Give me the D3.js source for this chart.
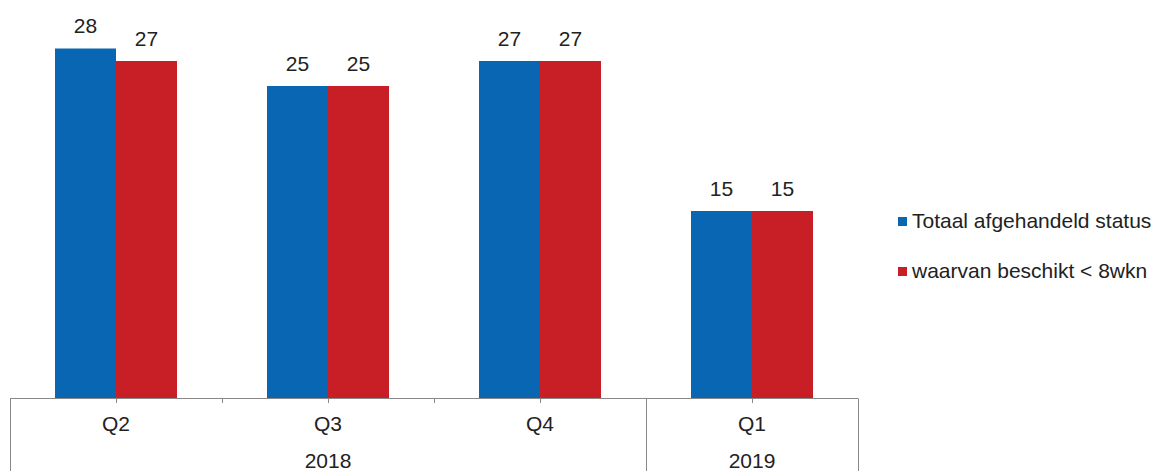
<!DOCTYPE html>
<html><head><meta charset="utf-8">
<script src="https://cdn.jsdelivr.net/npm/d3@7"></script>
<style>body{margin:0;background:#fff}svg{display:block}text{font-family:"Liberation Sans",Arial,sans-serif;fill:#222}</style>
</head><body>
<script>
const quarters = ["Q2","Q3","Q4","Q1"];
const years = [{label:"2018", from:0, to:3},{label:"2019", from:3, to:4}];
const seriesNames = ["Totaal afgehandeld status","waarvan beschikt < 8wkn"];
const totaal = [28,25,27,15];
const beschikt = [27,25,27,15];
const colors = ["#0866b2","#c71f25"];

const W=1162,H=471,FS=21;
const svg=d3.select("body").append("svg").attr("width",W).attr("height",H);
const x0=d3.scaleBand().domain(d3.range(quarters.length)).range([10,858]);
const x1=d3.scaleBand().domain([0,1]).range([0,122]);
const y=d3.scaleLinear().domain([0,32]).range([398.5,-1.5]);
const data=quarters.map((q,i)=>({i,vals:[totaal[i],beschikt[i]]}));
const g=svg.append("g");
data.forEach(d=>{
  const off=(x0.bandwidth()-122)/2;
  d.vals.forEach((v,s)=>{
    const bx=x0(d.i)+off+x1(s);
    g.append("rect").attr("x",bx).attr("y",y(v)).attr("width",x1.bandwidth()).attr("height",y(0)-y(v)).attr("fill",colors[s]);
    g.append("text").attr("x",bx+x1.bandwidth()/2).attr("y",y(v)-15.5).attr("text-anchor","middle").attr("font-size",FS).text(v);
  });
});
// axis
const ax=svg.append("g").attr("stroke","#888").attr("stroke-width",1);
ax.append("line").attr("x1",10).attr("x2",858).attr("y1",398.5).attr("y2",398.5);
d3.range(quarters.length).forEach(i=>{
  const c=Math.round(x0(i)+x0.bandwidth()/2)+0.5;
  ax.append("line").attr("x1",c).attr("x2",c).attr("y1",398.5).attr("y2",403);
});
const bounds=[];
years.forEach(yr=>{bounds.push(yr.from);});
bounds.push(quarters.length);
d3.range(quarters.length+1).forEach(k=>{
  const xx=Math.round(k<quarters.length?x0(k):x0.range()[1])+0.5;
  const full=bounds.includes(k);
  ax.append("line").attr("x1",xx).attr("x2",xx).attr("y1",398.5).attr("y2",full?H:403);
});
quarters.forEach((q,i)=>{
  svg.append("text").attr("x",x0(i)+x0.bandwidth()/2).attr("y",431).attr("text-anchor","middle").attr("font-size",FS).text(q);
});
years.forEach(yr=>{
  const cx=(x0(yr.from)+(yr.to<quarters.length?x0(yr.to):x0.range()[1]))/2;
  svg.append("text").attr("x",cx).attr("y",468).attr("text-anchor","middle").attr("font-size",FS).text(yr.label);
});
// legend
seriesNames.forEach((n,s)=>{
  const ly=228+s*50;
  svg.append("rect").attr("x",898).attr("y",ly-11).attr("width",9).attr("height",9).attr("fill",colors[s]);
  svg.append("text").attr("x",912).attr("y",ly).attr("font-size",FS).text(n);
});
</script>
</body></html>
